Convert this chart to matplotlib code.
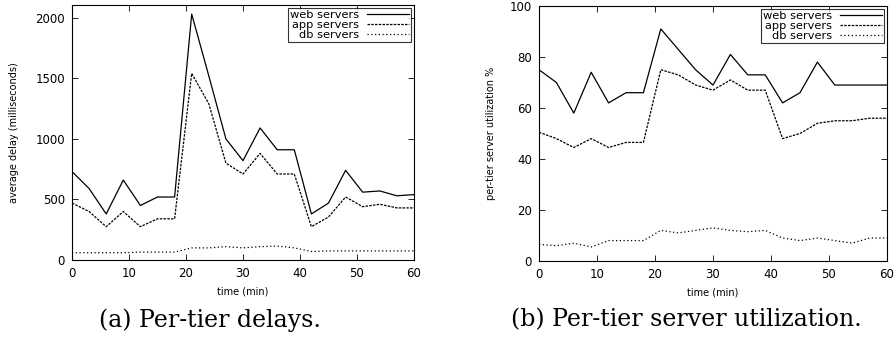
import numpy as np
import matplotlib.pyplot as plt

t = np.arange(0, 61, 3)

delay_web = [730, 590, 380, 660, 450, 520, 520, 2030, 1520, 1000, 820,
             1090, 910, 910, 380, 470, 740, 560, 570, 530, 540]
delay_app = [470, 400, 275, 400, 275, 340, 340, 1540, 1290, 800, 710,
             880, 710, 710, 275, 355, 520, 440, 460, 430, 430]
delay_db = [60, 60, 60, 60, 65, 65, 65, 100, 100, 110, 100,
            110, 115, 100, 70, 75, 75, 75, 75, 75, 75]

util_web = [75, 70, 58, 74, 62, 66, 66, 91, 83, 75, 69,
            81, 73, 73, 62, 66, 78, 69, 69, 69, 69]
util_app = [50.5, 48, 44.5, 48, 44.5, 46.5, 46.5, 75, 73, 69, 67,
            71, 67, 67, 48, 50, 54, 55, 55, 56, 56]
util_db = [6.5, 6, 7, 5.5, 8, 8, 8, 12, 11, 12, 13,
           12, 11.5, 12, 9, 8, 9, 8, 7, 9, 9]

labels = ['web servers', 'app servers', 'db servers']
styles = ['-', (0, (2, 1)), (0, (1, 2))]

W, H = 894, 337
fig = plt.figure(figsize=(W / 100, H / 100), dpi=100)
plt.rcParams['font.family'] = 'DejaVu Sans'


def px_axes(x0, y0, x1, y1):
    return fig.add_axes([x0 / W, 1 - y1 / H, (x1 - x0) / W, (y1 - y0) / H])


def setup(ax, ylabel, ymax, ystep, ylpad):
    ax.set_xlim(0, 60)
    ax.set_ylim(0, ymax)
    ax.set_xticks(range(0, 61, 10))
    ax.set_yticks(np.arange(0, ymax + 1, ystep))
    ax.tick_params(direction='in', top=True, right=True, labelsize=8.5,
                   length=4, width=0.6, pad=5)
    for s in ax.spines.values():
        s.set_linewidth(0.8)
    ax.set_xlabel('time (min)', fontsize=7, labelpad=5)
    ax.set_ylabel(ylabel, fontsize=7, labelpad=ylpad)
    leg = ax.legend(loc='upper right', markerfirst=False, fontsize=8.2,
                    frameon=True, fancybox=False, handlelength=3.7,
                    borderpad=0.15, labelspacing=0.0, handletextpad=0.7,
                    borderaxespad=0.3)
    leg.get_frame().set_edgecolor('black')
    leg.get_frame().set_linewidth(0.8)
    for txt in leg.get_texts():
        txt.set_ha('right')


ax1 = px_axes(72, 5, 414, 260)
for y, ls, lb in zip([delay_web, delay_app, delay_db], styles, labels):
    ax1.plot(t, y, color='black', linestyle=ls, linewidth=0.9, label=lb)
setup(ax1, 'average delay (milliseconds)', 2000, 500, 12)
ax1.set_ylim(0, 2105)

ax2 = px_axes(539, 6, 887, 261)
for y, ls, lb in zip([util_web, util_app, util_db], styles, labels):
    ax2.plot(t, y, color='black', linestyle=ls, linewidth=0.9, label=lb)
setup(ax2, 'per-tier server utilization %', 100, 20, 10)

cap = dict(fontsize=17, family='DejaVu Serif', ha='center', va='center')
fig.text(210 / W, 1 - 320 / H, '(a) Per-tier delays.', **cap)
fig.text(686 / W, 1 - 320 / H, '(b) Per-tier server utilization.', **cap)

fig.savefig('out.png', dpi=100)
